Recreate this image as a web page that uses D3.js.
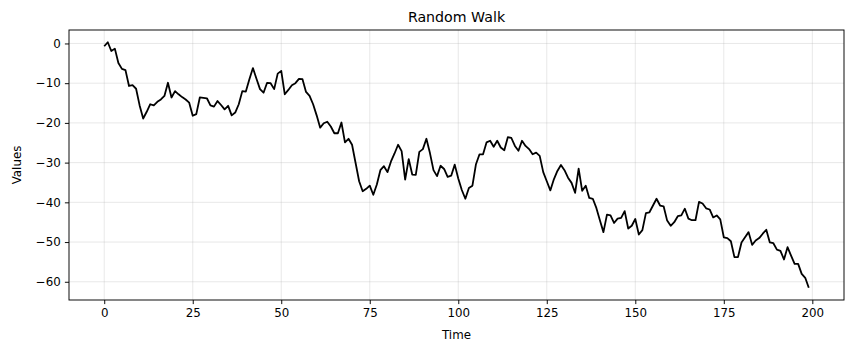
<!DOCTYPE html>
<html><head><meta charset="utf-8">
<script src="https://cdn.jsdelivr.net/npm/d3@7"></script>
<style>
html,body{margin:0;padding:0;background:#fff;}
svg{display:block;font-family:"DejaVu Sans",sans-serif;}
</style></head>
<body>
<svg id="chart" width="853" height="353"></svg>
<script>
const values = [-0.7,0.3,-1.9,-1.3,-4.9,-6.4,-6.7,-10.7,-10.5,-11.4,
-15.6,-18.9,-17.2,-15.3,-15.6,-14.7,-14.1,-13.2,-9.9,-13.6,
-12.0,-12.8,-13.5,-14.1,-14.9,-18.2,-17.8,-13.6,-13.7,-13.8,
-15.6,-15.9,-14.5,-15.5,-16.6,-15.7,-18.1,-17.4,-15.3,-12.0,
-12.1,-9.0,-6.2,-8.9,-11.5,-12.4,-9.9,-10.0,-11.5,-7.6,
-6.9,-12.8,-11.7,-10.5,-10.0,-8.9,-9.0,-12.2,-13.2,-15.3,
-18.1,-21.2,-20.1,-19.7,-20.9,-22.6,-22.6,-19.9,-24.9,-24.0,
-25.5,-30.1,-34.7,-37.2,-36.6,-35.8,-38.1,-35.5,-31.9,-30.9,
-32.4,-29.7,-27.7,-25.5,-27.1,-34.3,-29.1,-33.0,-33.1,-27.3,
-26.6,-24.0,-27.6,-31.9,-33.4,-30.8,-31.6,-33.6,-33.3,-30.5,
-34.0,-36.9,-39.1,-36.4,-35.8,-30.4,-27.9,-27.9,-24.9,-24.5,
-26.0,-24.5,-26.2,-26.9,-23.6,-23.8,-25.8,-27.0,-24.5,-25.8,
-26.6,-27.9,-27.5,-28.3,-32.4,-34.7,-37.0,-34.2,-32.1,-30.6,
-31.9,-33.8,-35.1,-37.6,-31.5,-37.1,-35.8,-38.9,-39.1,-41.4,
-44.5,-47.5,-43.1,-43.3,-45.2,-44.1,-43.9,-42.2,-46.6,-45.9,
-44.2,-48.1,-47.0,-42.7,-42.5,-40.8,-39.1,-40.8,-41.0,-44.6,
-45.9,-45.0,-43.5,-43.3,-41.6,-44.1,-44.5,-44.5,-39.9,-40.3,
-41.5,-41.8,-43.8,-43.3,-44.3,-48.8,-49.0,-49.8,-53.8,-53.8,
-50.1,-48.8,-47.5,-50.7,-49.6,-49.0,-47.9,-46.9,-50.1,-50.3,
-51.9,-52.2,-54.4,-51.3,-53.4,-55.5,-55.5,-58.0,-59.0,-61.5];
const xTicks = [0,25,50,75,100,125,150,175,200];
const yTicks = [0,-10,-20,-30,-40,-50,-60];
const title = "Random Walk";
const xLabel = "Time";
const yLabel = "Values";

const svg = d3.select("#chart");
const L = 69, R = 844, T = 30, B = 300;
const n = values.length;
const xMin = 0, xMax = n - 1, xPad = (xMax - xMin) * 0.05;
const yMinV = d3.min(values), yMaxV = d3.max(values), yPad = (yMaxV - yMinV) * 0.05;
const x = d3.scaleLinear().domain([xMin - xPad, xMax + xPad]).range([L, R]);
const y = d3.scaleLinear().domain([yMinV - yPad, yMaxV + yPad]).range([B, T]);
const fmt = d => (d < 0 ? "\u2212" + Math.abs(d) : String(d));

// grid
const grid = svg.append("g");
grid.selectAll(".gx").data(xTicks).join("line")
  .attr("x1", d => x(d)).attr("x2", d => x(d)).attr("y1", T).attr("y2", B)
  .attr("stroke", "#b0b0b0").attr("stroke-opacity", 0.3).attr("stroke-width", 0.95);
grid.selectAll(".gy").data(yTicks).join("line")
  .attr("y1", d => y(d)).attr("y2", d => y(d)).attr("x1", L).attr("x2", R)
  .attr("stroke", "#b0b0b0").attr("stroke-opacity", 0.3).attr("stroke-width", 0.95);

// line
const line = d3.line().x((d, i) => x(i)).y(d => y(d));
svg.append("path").datum(values).attr("d", line)
  .attr("fill", "none").attr("stroke", "#000").attr("stroke-width", 1.8)
  .attr("stroke-linejoin", "round").attr("stroke-linecap", "butt");

// frame
svg.append("rect").attr("x", L).attr("y", T).attr("width", R - L).attr("height", B - T)
  .attr("fill", "none").attr("stroke", "#000").attr("stroke-width", 0.95);

// axes
const xa = svg.append("g").attr("transform", `translate(0,${B})`)
  .call(d3.axisBottom(x).tickValues(xTicks).tickFormat(fmt).tickSize(4.1).tickPadding(4.1));
const ya = svg.append("g").attr("transform", `translate(${L},0)`)
  .call(d3.axisLeft(y).tickValues(yTicks).tickFormat(fmt).tickSize(4.1).tickPadding(4.1));
[xa, ya].forEach(a => {
  a.select(".domain").remove();
  a.selectAll("line").attr("stroke", "#000").attr("stroke-width", 0.95);
  a.selectAll("text").attr("font-family", "DejaVu Sans").attr("font-size", "11.85px").attr("fill", "#000");
});

svg.append("text").attr("x", (L + R) / 2).attr("y", 22).attr("text-anchor", "middle")
  .attr("font-size", "14.2px").attr("fill", "#000").text(title);
svg.append("text").attr("x", (L + R) / 2).attr("y", 339).attr("text-anchor", "middle")
  .attr("font-size", "11.85px").attr("fill", "#000").text(xLabel);
svg.append("text").attr("transform", `translate(21,${(T + B) / 2}) rotate(-90)`).attr("text-anchor", "middle")
  .attr("font-size", "11.85px").attr("fill", "#000").text(yLabel);
</script>
</body></html>
